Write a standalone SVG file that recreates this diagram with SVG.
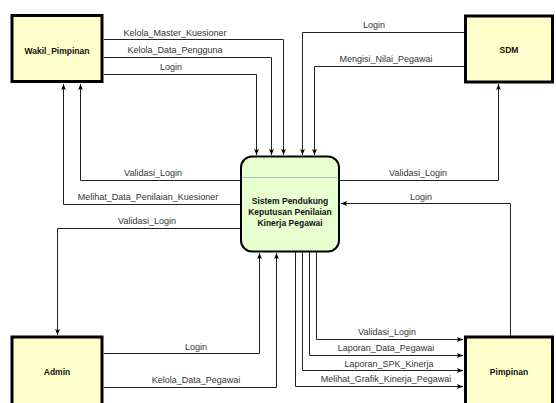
<svg xmlns="http://www.w3.org/2000/svg" width="556" height="403" viewBox="0 0 556 403">
<style>
.ent{fill:#ffffcc;stroke:#000;stroke-width:3}
.proc{fill:#e8ffd0;stroke:#000;stroke-width:2}
.bl{font-family:"Liberation Sans",Arial,sans-serif;font-size:8.5px;font-weight:bold;fill:#111;text-anchor:middle}
.lbl{font-family:"Liberation Sans",Arial,sans-serif;font-size:9px;fill:#333;text-anchor:middle}
.c{fill:none;stroke:#222;stroke-width:1;marker-end:url(#ah)}
</style>
<defs>
<marker id="ah" viewBox="0 0 10 10" refX="10" refY="5" markerWidth="6" markerHeight="6" markerUnits="userSpaceOnUse" orient="auto">
<path d="M0,1 L10,5 L0,9 L2,5 Z" fill="#000"/>
</marker>
</defs>
<rect width="556" height="403" fill="#fff"/>
<g id="connectors">
<path class="c" d="M104,39.5 H283.5 V155"/>
<path class="c" d="M104,57.5 H271.5 V155"/>
<path class="c" d="M104,74.5 H256.5 V155"/>
<path class="c" d="M464,32.5 H302.5 V155"/>
<path class="c" d="M464,66.5 H314.5 V155"/>
<path class="c" d="M340,180.5 H498.5 V84"/>
<path class="c" d="M240,180.5 H80.5 V84"/>
<path class="c" d="M240,204.5 H63.5 V84"/>
<path class="c" d="M240,228.5 H57.5 V335"/>
<path class="c" d="M510.5,336 V203.5 H341"/>
<path class="c" d="M104,353.5 H259.5 V253"/>
<path class="c" d="M104,387.5 H276.5 V253"/>
<path class="c" d="M316.5,252 V339.5 H463"/>
<path class="c" d="M309.5,252 V355.5 H463"/>
<path class="c" d="M302.5,252 V370.5 H463"/>
<path class="c" d="M295.5,252 V386.5 H463"/>
<text class="lbl" x="175" y="36">Kelola_Master_Kuesioner</text>
<text class="lbl" x="175" y="52.5">Kelola_Data_Pengguna</text>
<text class="lbl" x="171" y="70">Login</text>
<text class="lbl" x="374" y="28">Login</text>
<text class="lbl" x="386" y="62">Mengisi_Nilai_Pegawai</text>
<text class="lbl" x="418" y="176">Validasi_Login</text>
<text class="lbl" x="153" y="176">Validasi_Login</text>
<text class="lbl" x="148" y="200">Melihat_Data_Penilaian_Kuesioner</text>
<text class="lbl" x="147" y="224">Validasi_Login</text>
<text class="lbl" x="421" y="200">Login</text>
<text class="lbl" x="196" y="350">Login</text>
<text class="lbl" x="196" y="383">Kelola_Data_Pegawai</text>
<text class="lbl" x="387" y="335">Validasi_Login</text>
<text class="lbl" x="386" y="351">Laporan_Data_Pegawai</text>
<text class="lbl" x="389" y="367">Laporan_SPK_Kinerja</text>
<text class="lbl" x="386" y="382">Melihat_Grafik_Kinerja_Pegawai</text>
</g>
<g id="wakil_pimpinan">
<rect class="ent" x="12" y="15.5" width="90" height="66"/>
<text class="bl" x="57" y="54">Wakil_Pimpinan</text>
</g>
<g id="sdm">
<rect class="ent" x="465.5" y="16" width="87" height="66"/>
<text class="bl" x="509" y="53">SDM</text>
</g>
<g id="admin">
<rect class="ent" x="12" y="337" width="90" height="72"/>
<text class="bl" x="57" y="375">Admin</text>
</g>
<g id="pimpinan">
<rect class="ent" x="465.5" y="337" width="87" height="72"/>
<text class="bl" x="509" y="375">Pimpinan</text>
</g>
<g id="sistem">
<rect class="proc" x="241" y="156.5" width="98" height="95" rx="11"/>
<line x1="242" y1="177.5" x2="338" y2="177.5" stroke="#bbb" stroke-width="1"/>
<text class="bl" x="290" y="204">Sistem Pendukung</text>
<text class="bl" x="290" y="215">Keputusan Penilaian</text>
<text class="bl" x="290" y="226">Kinerja Pegawai</text>
</g>
</svg>
